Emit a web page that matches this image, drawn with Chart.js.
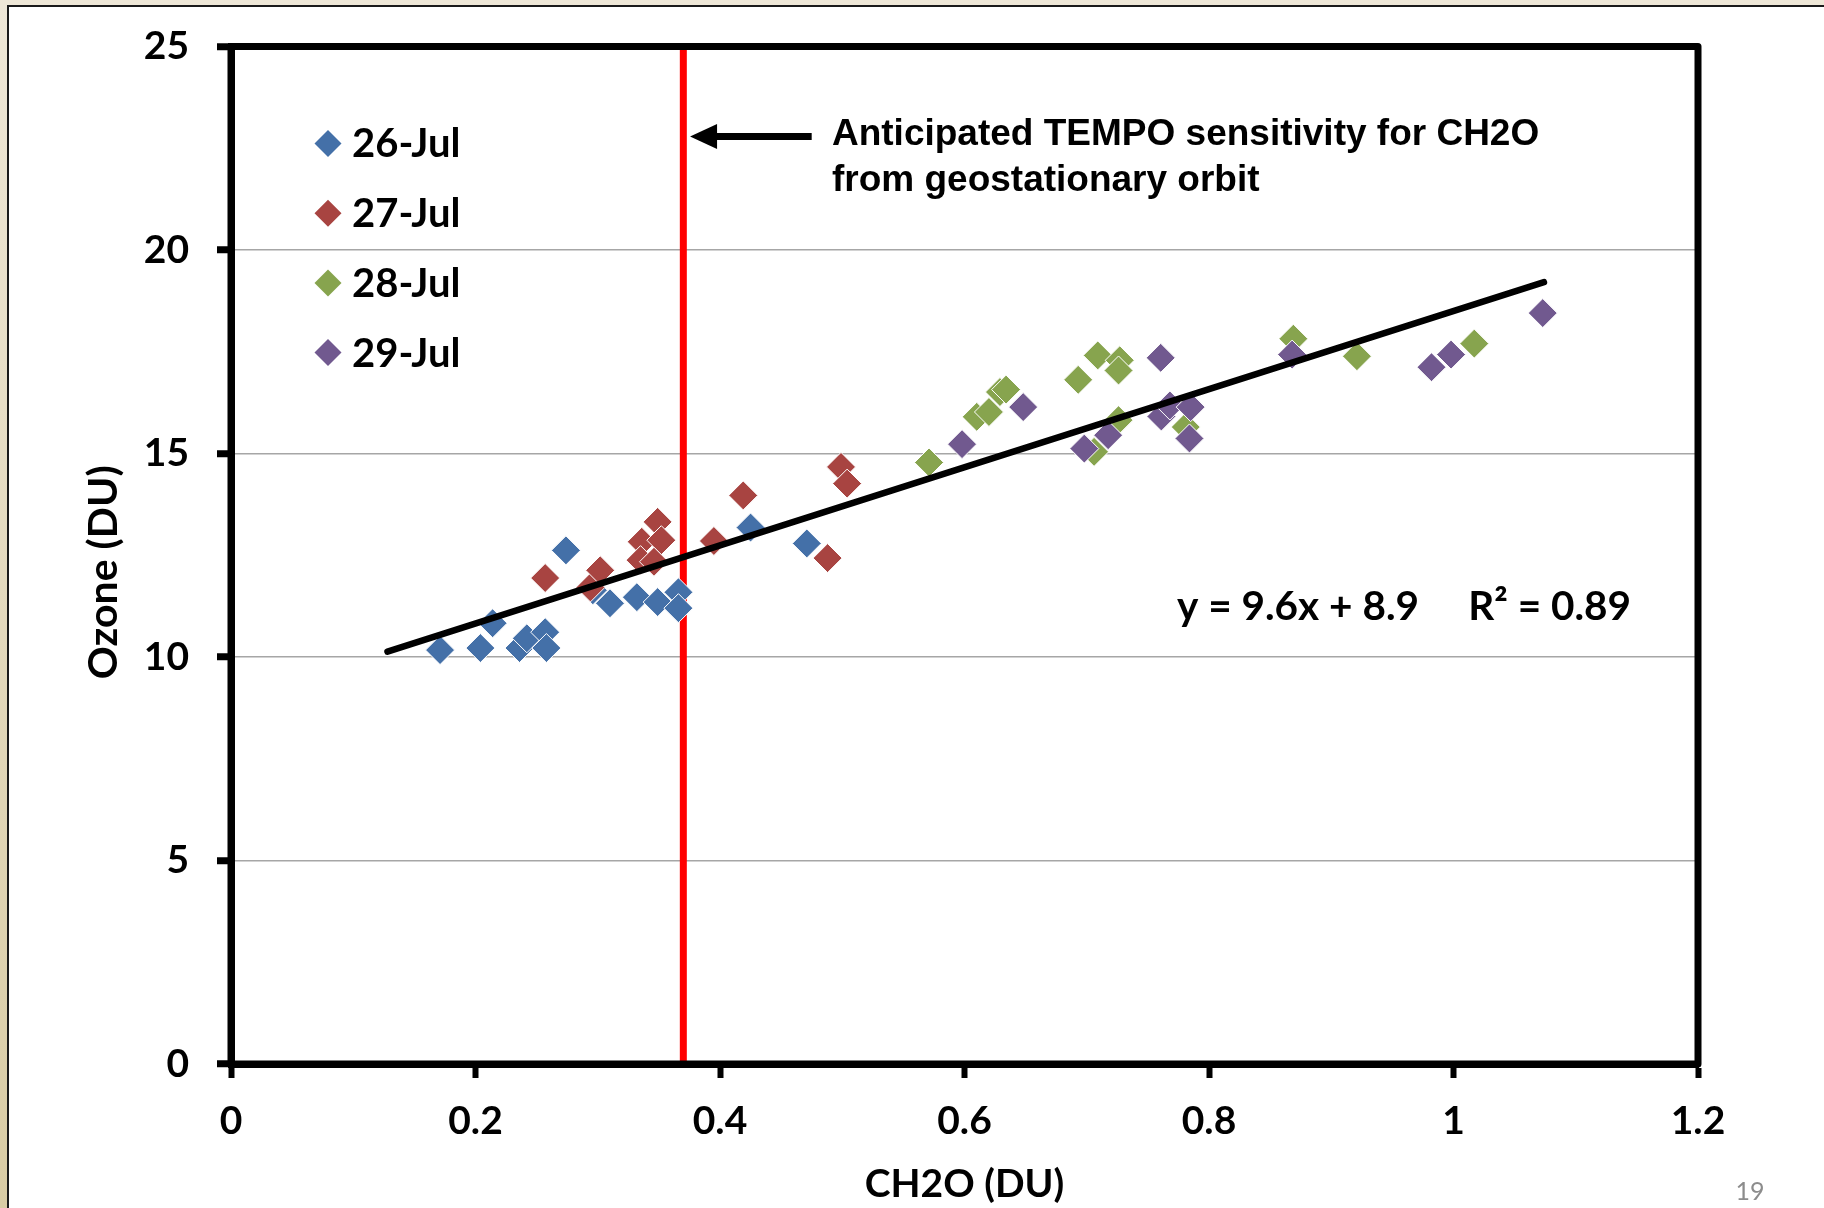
<!DOCTYPE html>
<html><head><meta charset="utf-8">
<script src="https://cdn.jsdelivr.net/npm/chart.js@4.4.1/dist/chart.umd.min.js"></script>
<style>html,body{margin:0;padding:0;background:#fff;overflow:hidden}</style>
</head><body><canvas id="c" width="1824" height="1208"></canvas>
<script>
// ---- data ----
const seriesNames = ['26-Jul', '27-Jul', '28-Jul', '29-Jul'];
const seriesColors = ['#4470A8', '#A84441', '#87A44E', '#71598F'];

const jul26X = [0.171, 0.204, 0.214, 0.236, 0.242, 0.257, 0.258, 0.274, 0.296, 0.310, 0.332, 0.349, 0.366, 0.366, 0.425, 0.471];
const jul26Y = [10.17, 10.22, 10.83, 10.22, 10.46, 10.61, 10.22, 12.62, 11.64, 11.32, 11.47, 11.35, 11.59, 11.20, 13.18, 12.79];

const jul27X = [0.257, 0.294, 0.302, 0.349, 0.336, 0.352, 0.335, 0.346, 0.395, 0.419, 0.488, 0.499, 0.504];
const jul27Y = [11.94, 11.71, 12.13, 13.32, 12.83, 12.87, 12.38, 12.34, 12.85, 13.97, 12.43, 14.67, 14.26];

const jul28X = [0.571, 0.610, 0.620, 0.629, 0.634, 0.693, 0.709, 0.727, 0.726, 0.726, 0.706, 0.781, 0.869, 0.921, 1.017];
const jul28Y = [14.78, 15.90, 16.02, 16.51, 16.57, 16.81, 17.41, 17.29, 17.04, 15.82, 15.04, 15.65, 17.82, 17.39, 17.70];

const jul29X = [0.598, 0.648, 0.698, 0.7175, 0.7605, 0.761, 0.768, 0.784, 0.785, 0.868, 0.982, 0.998, 1.073];
const jul29Y = [15.23, 16.14, 15.12, 15.45, 17.35, 15.91, 16.18, 15.37, 16.14, 17.43, 17.12, 17.43, 18.45];

const trendX = [0.128, 1.074];
const trendY = [10.13, 19.21];

const sensitivityX = [0.37, 0.37];
const sensitivityY = [0, 25];

const xTickLabels = ['0', '0.2', '0.4', '0.6', '0.8', '1', '1.2'];
const yTickLabels = ['0', '5', '10', '15', '20', '25'];

const xTitle = 'CH2O (DU)';
const yTitle = 'Ozone (DU)';
const annotationLines = ['Anticipated TEMPO sensitivity for CH2O', 'from geostationary orbit'];
const equationText = 'y = 9.6x + 8.9     R² = 0.89';
const pageNumber = '19';

// annotation anchors in data units
const arrowFrom = [0.475, 22.79];
const arrowTo = [0.3755, 22.79];
const annotationAt = [0.4916, 22.58, 21.46];
const equationAt = [0.7738, 10.90];

// ---- build ----
const zip = (xs, ys) => xs.map((x, i) => ({x: x, y: ys[i]}));
const seriesX = [jul26X, jul27X, jul28X, jul29X];
const seriesY = [jul26Y, jul27Y, jul28Y, jul29Y];

const FONT = 'Lato, "Open Sans", sans-serif';
const scatterSets = seriesNames.map((name, i) => ({
  type: 'scatter',
  label: name,
  data: zip(seriesX[i], seriesY[i]),
  pointStyle: 'rectRot',
  pointRadius: 14.5,
  pointBackgroundColor: seriesColors[i],
  pointBorderColor: '#ffffff',
  pointBorderWidth: 1,
  showLine: false,
  order: 4 - i
}));

const datasets = scatterSets.concat([
  {
    type: 'line', label: 'trend', data: zip(trendX, trendY),
    borderColor: '#000', borderWidth: 6.5, pointRadius: 0, showLine: true,
    borderCapStyle: 'round', fill: false, order: 0
  },
  {
    type: 'line', label: 'sensitivity', data: zip(sensitivityX, sensitivityY),
    borderColor: '#ff0000', borderWidth: 7, pointRadius: 0, showLine: true,
    fill: false, order: 10
  }
]);

const decor = {
  id: 'decor',
  beforeDraw(chart) {
    const ctx = chart.ctx, W = chart.width, H = chart.height;
    ctx.save();
    const g = ctx.createLinearGradient(0, 0, 0, H);
    g.addColorStop(0, '#EEE7D7');
    g.addColorStop(1, '#D9CCA4');
    ctx.fillStyle = g;
    ctx.fillRect(0, 0, W, H);
    ctx.fillStyle = '#ffffff';
    ctx.fillRect(8, 6, W - 8, H - 6);
    ctx.fillStyle = '#1a1a1a';
    ctx.fillRect(7, 5, W - 7, 2);
    ctx.fillRect(7, 5, 2, H - 5);
    ctx.restore();
  },
  afterDatasetsDraw(chart) {
    const ctx = chart.ctx, a = chart.chartArea;
    const xs = chart.scales.x, ys = chart.scales.y;
    ctx.save();
    // frame
    ctx.strokeStyle = '#000';
    ctx.lineWidth = 7;
    ctx.lineJoin = 'round';
    ctx.strokeRect(a.left, a.top, a.right - a.left, a.bottom - a.top);

    // legend
    ctx.font = 'bold 40px ' + FONT;
    ctx.textBaseline = 'middle';
    ctx.textAlign = 'left';
    seriesNames.forEach((name, i) => {
      const cx = a.left + 97, cy = a.top + 97 + i * 69.7;
      const r = 13.5;
      ctx.fillStyle = seriesColors[i];
      ctx.beginPath();
      ctx.moveTo(cx - r, cy); ctx.lineTo(cx, cy - r); ctx.lineTo(cx + r, cy); ctx.lineTo(cx, cy + r);
      ctx.closePath(); ctx.fill();
      ctx.fillStyle = '#000';
      ctx.fillText(name, cx + 24, cy + 1);
    });

    // arrow
    const x0 = xs.getPixelForValue(arrowFrom[0]), y0 = ys.getPixelForValue(arrowFrom[1]);
    const x1 = xs.getPixelForValue(arrowTo[0]);
    ctx.strokeStyle = '#000';
    ctx.lineWidth = 7;
    ctx.lineCap = 'butt';
    ctx.beginPath(); ctx.moveTo(x0, y0); ctx.lineTo(x1 + 20, y0); ctx.stroke();
    ctx.fillStyle = '#000';
    ctx.beginPath();
    ctx.moveTo(x1, y0); ctx.lineTo(x1 + 27, y0 - 12.5); ctx.lineTo(x1 + 27, y0 + 12.5);
    ctx.closePath(); ctx.fill();

    // annotation text
    ctx.font = 'bold 37px "Liberation Sans", Arial, sans-serif';
    ctx.textBaseline = 'alphabetic';
    ctx.textAlign = 'left';
    const tx = xs.getPixelForValue(annotationAt[0]);
    ctx.fillText(annotationLines[0], tx, ys.getPixelForValue(annotationAt[1]));
    ctx.fillText(annotationLines[1], tx, ys.getPixelForValue(annotationAt[2]));

    // equation
    ctx.font = 'bold 40.5px ' + FONT;
    ctx.fillText(equationText, xs.getPixelForValue(equationAt[0]), ys.getPixelForValue(equationAt[1]));

    // y title
    ctx.save();
    ctx.translate(104, (a.top + a.bottom) / 2 + 17);
    ctx.rotate(-Math.PI / 2);
    ctx.textAlign = 'center';
    ctx.textBaseline = 'middle';
    ctx.font = 'bold 41px ' + FONT;
    ctx.fillText(yTitle, 0, 0);
    ctx.restore();

    // page number
    ctx.font = '25px ' + FONT;
    ctx.fillStyle = '#8c8c8c';
    ctx.textAlign = 'center';
    ctx.textBaseline = 'middle';
    ctx.fillText(pageNumber, 1750, 1192);
    ctx.restore();
  }
};

new Chart(document.getElementById('c'), {
  type: 'scatter',
  data: {datasets: datasets},
  options: {
    responsive: false,
    animation: false,
    devicePixelRatio: 1,
    layout: {padding: {left: 0, top: 46.5, right: 126, bottom: 0}},
    plugins: {legend: {display: false}, tooltip: {enabled: false}},
    scales: {
      x: {
        type: 'linear', min: 0, max: 1.2,
        afterFit(s) { s.height = 144; },
        ticks: {
          stepSize: 0.2, maxRotation: 0, autoSkip: false, color: '#000', padding: 20,
          font: {family: FONT, weight: 'bold', size: 39},
          callback: (v, i) => xTickLabels[i]
        },
        grid: {drawOnChartArea: false, tickLength: 14, tickWidth: 6, tickColor: '#000'},
        border: {display: true, color: '#000', width: 7},
        title: {display: true, text: xTitle, color: '#000', font: {family: FONT, weight: 'bold', size: 39}, padding: {top: 0, bottom: 0}}
      },
      y: {
        type: 'linear', min: 0, max: 25,
        afterFit(s) { s.width = 231; },
        ticks: {
          stepSize: 5, color: '#000', padding: 28,
          font: {family: FONT, weight: 'bold', size: 39, lineHeight: 0.9},
          callback: (v, i) => yTickLabels[i]
        },
        grid: {
          color: (c) => (c.tick && (c.tick.value === 0 || c.tick.value === 25)) ? 'rgba(0,0,0,0)' : '#a6a6a6',
          lineWidth: 1.5, tickLength: 14, tickWidth: 7, tickColor: '#000'
        },
        border: {display: true, color: '#000', width: 7}
      }
    }
  },
  plugins: [decor]
});
</script>
</body></html>
